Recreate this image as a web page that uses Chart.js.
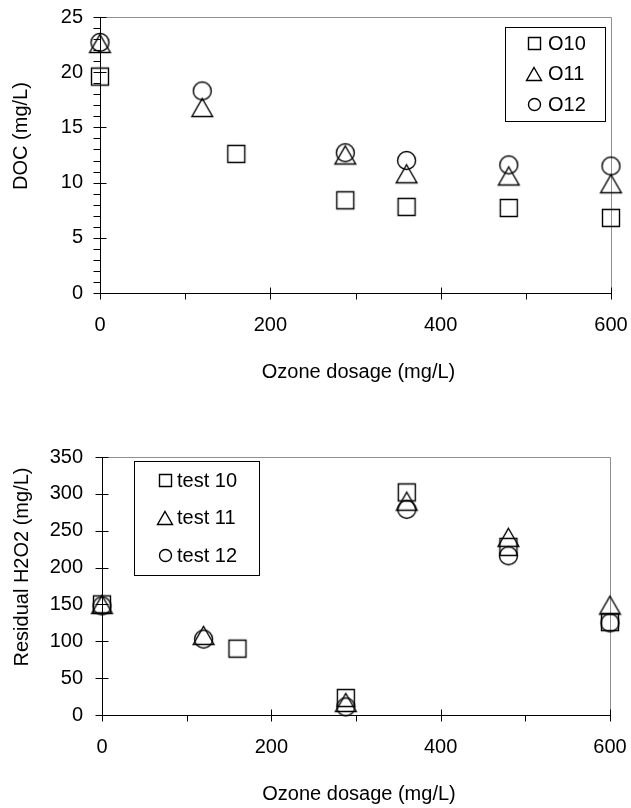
<!DOCTYPE html>
<html>
<head>
<meta charset="utf-8">
<title>DOC e H2O2 residual</title>
<script src="https://cdn.jsdelivr.net/npm/chart.js@4.4.0/dist/chart.umd.min.js"></script>
<style>
  body { margin: 0; background: #fff; }
  canvas { display: block; }
</style>
</head>
<body>
<canvas id="graficoDoc" width="631" height="400"></canvas>
<canvas id="graficoH2o2" width="631" height="408"></canvas>
<script>
// dados
const dosagem10 = [0, 160, 288, 360, 480, 600];
const dosagem1112 = [0, 120, 288, 360, 480, 600];

const docO10 = [19.6, 12.6, 8.4, 7.8, 7.7, 6.8];
const docO11 = [22.6, 16.8, 12.5, 10.8, 10.6, 9.9];
const docO12 = [22.7, 18.3, 12.7, 12.0, 11.6, 11.5];

const h2o2Teste10 = [150, 90, 23, 302, 228, 126];
const h2o2Teste11 = [150, 108, 17, 290, 241, 149];
const h2o2Teste12 = [148, 103, 11, 279, 216, 125];

const ticksDosagem = [0, 200, 400, 600];
const ticksDoc = [0, 5, 10, 15, 20, 25];
const ticksH2o2 = [0, 50, 100, 150, 200, 250, 300, 350];

const fonte = { family: "'Liberation Sans', Arial, sans-serif", size: 20 };
const fonteCss = "20px 'Liberation Sans', Arial, sans-serif";

function pontos(xs, ys) {
  return xs.map((x, i) => ({ x, y: ys[i] }));
}

// marcadores vazados, como no Excel
function marcador(tipo, lado) {
  const n = lado + 7;
  const c = document.createElement("canvas");
  c.width = c.height = n;
  const g = c.getContext("2d");
  const m = n / 2, h = lado / 2;
  g.strokeStyle = "#000";
  g.lineWidth = 1.4;
  g.beginPath();
  if (tipo === "quadrado") {
    g.rect(m - h, m - h, lado, lado);
  } else if (tipo === "triangulo") {
    g.moveTo(m, m - h);
    g.lineTo(m + h * 1.15, m + h);
    g.lineTo(m - h * 1.15, m + h);
    g.closePath();
  } else {
    g.arc(m, m, h, 0, Math.PI * 2);
  }
  g.stroke();
  return c;
}

function serie(label, xs, ys, tipo) {
  return {
    label,
    tipo,
    data: pontos(xs, ys),
    pointStyle: marcador(tipo, tipo === "quadrado" ? 17 : 18),
    pointRadius: 8,
    pointHoverRadius: 8,
    showLine: false,
    clip: false
  };
}

// eixos, tracinhos, titulos e legenda
const eixos = {
  id: "eixos",
  beforeDatasetsDraw(chart, args, o) {
    const { ctx, chartArea: a, scales: { x, y } } = chart;
    const L = Math.round(a.left) + 0.5, R = Math.round(a.right) + 0.5;
    const T = Math.round(a.top) + 0.5, B = Math.round(a.bottom) + 0.5;
    ctx.save();
    ctx.lineWidth = 1;
    ctx.strokeStyle = "#8f8f8f";
    ctx.beginPath();
    ctx.moveTo(L, T); ctx.lineTo(R, T); ctx.lineTo(R, B);
    ctx.stroke();

    ctx.strokeStyle = "#000";
    ctx.beginPath();
    ctx.moveTo(L, T); ctx.lineTo(L, B); ctx.lineTo(R, B);
    const maioresX = x.ticks.map(t => t.value);
    maioresX.forEach(v => {
      const px = Math.round(x.getPixelForValue(v)) + 0.5;
      ctx.moveTo(px, B - 6); ctx.lineTo(px, B + 6);
    });
    for (let v = x.min; v <= x.max; v += o.menorX) {
      if (maioresX.includes(v)) continue;
      const px = Math.round(x.getPixelForValue(v)) + 0.5;
      ctx.moveTo(px, B); ctx.lineTo(px, B + 6);
    }
    const maioresY = y.ticks.map(t => t.value);
    maioresY.forEach(v => {
      const py = Math.round(y.getPixelForValue(v)) + 0.5;
      ctx.moveTo(L - 7, py); ctx.lineTo(L + 6, py);
    });
    if (o.menorY) {
      for (let v = y.min; v <= y.max; v += o.menorY) {
        if (maioresY.includes(v)) continue;
        const py = Math.round(y.getPixelForValue(v)) + 0.5;
        ctx.moveTo(L - 7, py); ctx.lineTo(L, py);
      }
    }
    ctx.stroke();
    ctx.restore();
  },
  afterDraw(chart, args, o) {
    const { ctx, chartArea: a } = chart;
    ctx.save();
    ctx.fillStyle = "#000";
    ctx.font = fonteCss;
    ctx.textAlign = "center";
    ctx.textBaseline = "middle";
    ctx.fillText(o.tituloX, (a.left + a.right) / 2 + 3, a.bottom + 79);
    ctx.translate(o.tituloYx, (a.top + a.bottom) / 2 - 19);
    ctx.rotate(-Math.PI / 2);
    ctx.fillText(o.tituloY, 0, 0);
    ctx.restore();

    // legenda dentro da area
    const lg = o.legenda;
    ctx.save();
    ctx.strokeStyle = "#000";
    ctx.lineWidth = 1;
    ctx.strokeRect(lg.x + 0.5, lg.y + 0.5, lg.w, lg.h);
    ctx.font = fonteCss;
    ctx.fillStyle = "#000";
    ctx.textAlign = "left";
    ctx.textBaseline = "middle";
    chart.data.datasets.forEach((ds, i) => {
      const cy = lg.y + lg.primeira + i * lg.passo;
      const img = marcador(ds.tipo, ds.tipo === "triangulo" ? 13 : 12);
      ctx.drawImage(img, Math.round(lg.x + lg.marca - img.width / 2), Math.round(cy - img.height / 2));
      ctx.fillText(ds.label, lg.x + lg.texto, cy + 1);
    });
    ctx.restore();
  }
};

// tickLength invisivel afasta os rotulos sem mexer na area do grafico
function opcoes(cfg) {
  return {
    responsive: false,
    animation: false,
    layout: { padding: { top: cfg.topo, right: cfg.direita, left: 0, bottom: 0 } },
    plugins: {
      legend: { display: false },
      tooltip: { enabled: false },
      eixos: cfg.eixos
    },
    scales: {
      x: {
        type: "linear",
        min: 0,
        max: 600,
        afterBuildTicks: s => { s.ticks = ticksDosagem.map(v => ({ value: v })); },
        afterFit: s => { s.height = cfg.alturaX; },
        grid: { display: false, drawTicks: true, tickLength: 20 },
        border: { display: false },
        ticks: { font: fonte, color: "#000", padding: 0, maxRotation: 0 }
      },
      y: {
        min: 0,
        max: cfg.ticksY[cfg.ticksY.length - 1],
        afterBuildTicks: s => { s.ticks = cfg.ticksY.map(v => ({ value: v })); },
        afterFit: s => { s.width = cfg.larguraY; },
        grid: { display: false, drawTicks: true, tickLength: cfg.padY },
        border: { display: false },
        ticks: { font: fonte, color: "#000", padding: 0 }
      }
    }
  };
}

new Chart(document.getElementById("graficoDoc"), {
  type: "scatter",
  data: {
    datasets: [
      serie("O10", dosagem10, docO10, "quadrado"),
      serie("O11", dosagem1112, docO11, "triangulo"),
      serie("O12", dosagem1112, docO12, "circulo")
    ]
  },
  plugins: [eixos],
  options: opcoes({
    topo: 17, direita: 20, alturaX: 107, larguraY: 100, padY: 17,
    ticksY: ticksDoc,
    eixos: {
      menorX: 100, menorY: 1,
      tituloX: "Ozone dosage (mg/L)", tituloY: "DOC (mg/L)", tituloYx: 21,
      legenda: { x: 505, y: 27, w: 100, h: 94, marca: 29, texto: 43, primeira: 16, passo: 30.5 }
    }
  })
});

new Chart(document.getElementById("graficoH2o2"), {
  type: "scatter",
  data: {
    datasets: [
      serie("test 10", dosagem10, h2o2Teste10, "quadrado"),
      serie("test 11", dosagem1112, h2o2Teste11, "triangulo"),
      serie("test 12", dosagem1112, h2o2Teste12, "circulo")
    ]
  },
  plugins: [eixos],
  options: opcoes({
    topo: 57, direita: 21, alturaX: 93, larguraY: 102, padY: 19,
    ticksY: ticksH2o2,
    eixos: {
      menorX: 100, menorY: 0,
      tituloX: "Ozone dosage (mg/L)", tituloY: "Residual H2O2 (mg/L)", tituloYx: 22,
      legenda: { x: 134, y: 61, w: 125, h: 114, marca: 31, texto: 43, primeira: 19, passo: 37.5 }
    }
  })
});
</script>
</body>
</html>
